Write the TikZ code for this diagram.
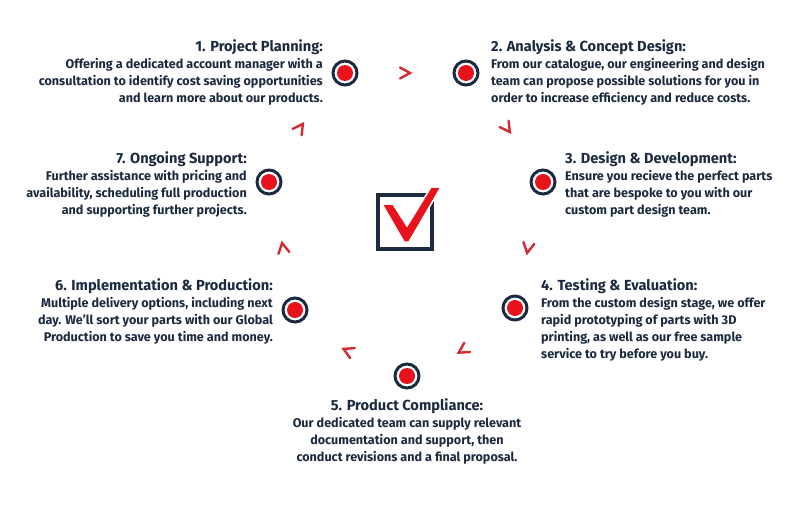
\documentclass[tikz,border=0pt]{standalone}
\usepackage{fontspec}
\setmainfont{Fira Sans}
\definecolor{navy}{HTML}{1B2A3F}
\definecolor{mred}{HTML}{E8121C}
\definecolor{cred}{HTML}{D62A33}
\newcommand\hdtxt[1]{{\fontsize{14.6}{17}\selectfont #1}}
\newcommand\chevr[3]{\draw[chevline,shift={(#1,#2)},rotate=#3] (-5,-5.5) -- (5,0) -- (-5,5.5);}
\tikzset{
  txt/.style={inner sep=0pt, text=navy, font=\bfseries\fontsize{12.6}{16.9}\selectfont},
  ring/.style={circle, draw=navy, line width=3pt, fill=white, minimum size=24pt, inner sep=0pt,
    path picture={\fill[mred] (path picture bounding box.center) circle (8pt);}},
  chevline/.style={draw=cred, line width=2.4pt, line cap=round, line join=miter},
}
\begin{document}
\begin{tikzpicture}[x=1pt,y=-1pt]
\useasboundingbox (0,0) rectangle (793,506);
\fill[white] (0,0) rectangle (793,506);

% markers
\node[ring] (m1) at (345,73) {};
\node[ring] (m2) at (466,73) {};
\node[ring] (m3) at (543,182) {};
\node[ring] (m4) at (515,308) {};
\node[ring] (m5) at (407,376) {};
\node[ring] (m6) at (295,310) {};
\node[ring] (m7) at (269,182) {};

% chevrons
\chevr{405}{73}{0}
\chevr{507}{128}{-55}
\chevr{528}{248}{-100}
\chevr{463}{350}{-148}
\chevr{348}{351}{155}
\chevr{283}{248}{100}
\chevr{300}{128}{55}

% check box
\draw[navy, line width=4pt] (378,195) rectangle (432,249);
\filldraw[fill=mred, draw=white, line width=1.5pt]
  (382,204) -- (393,204) -- (407,226) -- (431,187) -- (441,187) -- (409,242) -- (404,242) -- cycle;

% texts
\node[txt, anchor=north east, align=right] (t1) at (323,39)
  {\hdtxt{1. Project Planning:}\\[1pt]
   Offering a dedicated account manager with a\\
   consultation to identify cost saving opportunities\\
   and learn more about our products.};
\node[txt, anchor=north west, align=left] (t2) at (491,39)
  {\hdtxt{2. Analysis \& Concept Design:}\\[1pt]
   From our catalogue, our engineering and design\\
   team can propose possible solutions for you in\\
   order to increase efficiency and reduce costs.};
\node[txt, anchor=north west, align=left] (t3) at (565,151)
  {\hdtxt{3. Design \& Development:}\\[1pt]
   Ensure you recieve the perfect parts\\
   that are bespoke to you with our\\
   custom part design team.};
\node[txt, anchor=north east, align=right] (t7) at (247,151)
  {\hdtxt{7. Ongoing Support:}\\[1pt]
   Further assistance with pricing and\\
   availability, scheduling full production\\
   and supporting further projects.};
\node[txt, anchor=north east, align=right] (t6) at (273,278)
  {\hdtxt{6. Implementation \& Production:}\\[1pt]
   Multiple delivery options, including next\\
   day. We’ll sort your parts with our Global\\
   Production to save you time and money.};
\node[txt, anchor=north west, align=left] (t4) at (541,278)
  {\hdtxt{4. Testing \& Evaluation:}\\[1pt]
   From the custom design stage, we offer\\
   rapid prototyping of parts with 3D\\
   printing, as well as our free sample\\
   service to try before you buy.};
\node[txt, anchor=north, align=center] (t5) at (407,398)
  {\hdtxt{5. Product Compliance:}\\[1pt]
   Our dedicated team can supply relevant\\
   documentation and support, then\\
   conduct revisions and a final proposal.};
\end{tikzpicture}
\end{document}
